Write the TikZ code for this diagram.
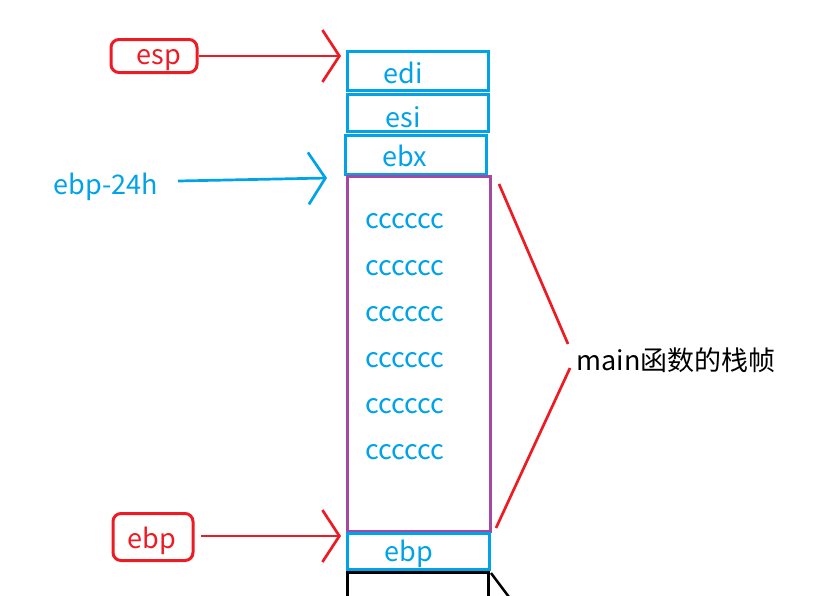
\documentclass[tikz,border=0pt]{standalone}
\usepackage{fontspec}
\setmainfont{Noto Sans CJK SC}
\usetikzlibrary{arrows.meta}
\definecolor{pblue}{HTML}{00A2E8}
\definecolor{pred}{HTML}{ED1C24}
\definecolor{ppurple}{HTML}{A349A4}
\tikzset{
  cell/.style={draw=pblue, line width=3pt, inner sep=0pt},
  lbl/.style={rounded corners=8pt, draw=pred, line width=3pt, text=pred, inner sep=0pt},
  bluetxt/.style={text=pblue, font=\fontsize{27}{30}\selectfont},
  redtxt/.style={text=pred, font=\fontsize{27}{30}\selectfont},
  pointer/.style={line width=2.7pt, -{Straight Barb[length=17pt,width=52pt,line width=2.7pt]}},
}
\begin{document}
\begin{tikzpicture}[x=1pt,y=-1pt]
\useasboundingbox (0,0) rectangle (821,595);
% stack cells
\draw[cell] (347,51) rectangle (488,90);
\node[bluetxt] (edi) at (403,73) {edi};
\draw[cell] (347,94) rectangle (488,131);
\node[bluetxt] (esi) at (403,117) {esi};
\draw[cell] (345,135) rectangle (486,174);
\node[bluetxt] (ebx) at (405,156) {ebx};
\draw[draw=ppurple, line width=3pt] (347,176) rectangle (490,531);
\foreach \y/\n in {221/c1,268/c2,314/c3,360/c4,406/c5,452/c6}
  \node[bluetxt] (\n) at (405,\y) {cccccc};
\draw[cell] (347,533) rectangle (489,569);
\node[bluetxt] (ebpc) at (409,554) {ebp};
\draw[line width=3pt] (347,600) -- (347,572) -- (488,572) -- (488,600);
\coordinate (blk1) at (491,573);
\coordinate (blk2) at (509,597);
\draw[line width=2.5pt] (blk1) -- (blk2);
% labels
\node[lbl, minimum width=86pt, minimum height=33pt] (esp) at (154,56) {};
\node[redtxt] (esptxt) at (159,60) {esp};
\node[lbl, minimum width=80pt, minimum height=47pt] (ebpl) at (153,537) {};
\node[redtxt] (ebptxt) at (152,541) {ebp};
\node[bluetxt, anchor=west] (e24) at (50,187) {ebp-24h};
% arrows
\coordinate (espStart) at (199,56);
\coordinate (espTip) at (341,56);
\draw[pointer, pred] (espStart) -- (espTip);
\coordinate (ebpStart) at (201,536);
\coordinate (ebpTip) at (341,536);
\draw[pointer, pred] (ebpStart) -- (ebpTip);
\coordinate (e24Start) at (178,181);
\coordinate (e24Tip) at (327,178);
\draw[pointer, pblue] (e24Start) -- (e24Tip);
% frame annotation
\node[anchor=west, font=\fontsize{27}{30}\selectfont] (frame) at (573,360) {main函数的栈帧};
\coordinate (f1) at (499,184);
\coordinate (f2) at (568,344);
\coordinate (f3) at (570,368);
\coordinate (f4) at (496,528);
\draw[pred, line width=2.7pt] (f1) -- (f2);
\draw[pred, line width=2.7pt] (f3) -- (f4);
\end{tikzpicture}
\end{document}
